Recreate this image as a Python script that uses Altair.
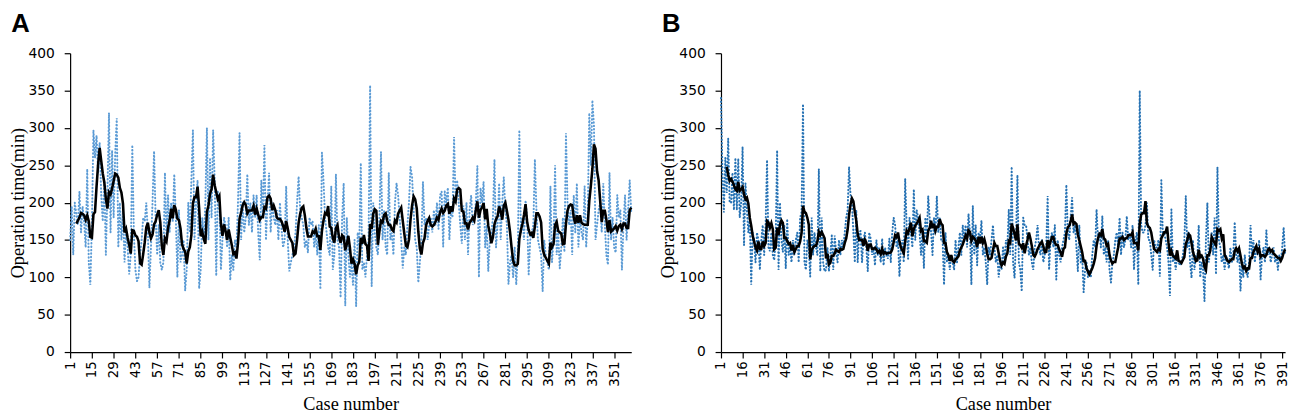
import altair as alt
import pandas as pd

# Panel A: operation time per case (min)
times_a = [
    150, 195, 130, 200, 185, 170, 215, 160, 195, 175,
    140, 245, 120, 90, 170, 297, 260, 290, 240, 280,
    210, 175, 230, 130, 215, 320, 160, 270, 180, 265,
    313, 140, 200, 150, 190, 120, 165, 140, 104, 130,
    277, 160, 110, 95, 100, 130, 150, 180, 175, 200,
    160, 86, 140, 200, 269, 180, 130, 170, 120, 110,
    120, 240, 150, 210, 160, 200, 175, 238, 180, 100,
    190, 120, 130, 150, 82, 110, 200, 160, 230, 297,
    150, 200, 230, 85, 110, 180, 150, 200, 300, 150,
    260, 180, 297, 230, 102, 215, 200, 110, 150, 180,
    170, 140, 180, 96, 130, 110, 150, 140, 200, 293,
    150, 200, 160, 180, 238, 170, 200, 160, 210, 180,
    210, 160, 123, 230, 180, 277, 150, 200, 240, 160,
    200, 180, 170, 190, 150, 200, 165, 140, 150, 222,
    150, 108, 120, 130, 140, 160, 200, 235, 190, 180,
    170, 140, 150, 133, 180, 170, 175, 140, 160, 130,
    170, 84, 267, 230, 180, 160, 140, 130, 222, 110,
    130, 238, 150, 140, 73, 180, 226, 62, 180, 130,
    100, 120, 90, 150, 61, 160, 140, 253, 110, 120,
    100, 130, 150, 357, 88, 200, 160, 140, 130, 180,
    268, 150, 190, 140, 130, 240, 150, 160, 130, 200,
    226, 210, 180, 150, 112, 140, 130, 170, 200, 248,
    234, 190, 150, 140, 93, 120, 150, 228, 170, 180,
    150, 170, 180, 160, 190, 170, 200, 165, 210, 215,
    141, 215, 200, 220, 150, 190, 180, 288, 200, 230,
    200, 170, 145, 196, 150, 200, 130, 190, 210, 170,
    180, 200, 249, 100, 220, 200, 228, 140, 170, 108,
    150, 160, 180, 258, 140, 170, 226, 150, 200, 234,
    190, 170, 91, 120, 130, 100, 140, 90, 130, 297,
    160, 180, 150, 203, 180, 104, 150, 160, 170, 258,
    190, 150, 140, 130, 81, 150, 130, 120, 110, 222,
    120, 150, 250, 130, 160, 112, 140, 180, 134, 293,
    200, 170, 190, 130, 210, 160, 226, 140, 180, 160,
    150, 222, 140, 180, 320, 250, 337, 303, 150, 170,
    190, 200, 160, 226, 170, 130, 117, 240, 150, 180,
    140, 133, 210, 180, 190, 110, 170, 210, 150, 190,
    230, 187,
]

# Panel B: operation time per case (min)
times_b = [
    340, 240, 187, 260, 213, 286, 200, 200, 240, 190,
    260, 190, 259, 180, 200, 275, 143, 226, 190, 160,
    180, 90, 160, 150, 120, 160, 150, 110, 150, 170,
    130, 170, 257, 140, 135, 160, 130, 123, 150, 270,
    110, 200, 150, 134, 170, 112, 178, 130, 140, 120,
    150, 130, 150, 160, 120, 180, 187, 332, 120, 110,
    150, 140, 101, 180, 130, 160, 140, 130, 245, 108,
    180, 120, 108, 110, 140, 108, 130, 156, 110, 156,
    134, 120, 150, 130, 150, 140, 160, 180, 190, 248,
    210, 200, 160, 120, 190, 120, 160, 162, 120, 150,
    160, 140, 108, 160, 152, 130, 140, 116, 150, 130,
    140, 120, 152, 116, 140, 130, 125, 152, 120, 160,
    180, 170, 140, 150, 101, 140, 150, 120, 232, 170,
    125, 180, 160, 140, 218, 150, 190, 180, 160, 130,
    160, 112, 180, 150, 209, 180, 160, 130, 180, 160,
    209, 160, 180, 150, 150, 90, 160, 120, 130, 110,
    130, 120, 110, 150, 120, 140, 160, 130, 170, 150,
    170, 140, 185, 160, 90, 196, 130, 170, 116, 160,
    150, 176, 130, 140, 120, 90, 141, 130, 150, 170,
    140, 120, 130, 100, 120, 110, 140, 120, 150, 141,
    191, 130, 248, 120, 99, 150, 237, 120, 110, 81,
    180, 170, 170, 150, 130, 140, 120, 110, 140, 150,
    170, 138, 130, 150, 120, 130, 140, 209, 110, 150,
    160, 140, 170, 97, 150, 130, 120, 140, 150, 160,
    224, 160, 150, 180, 207, 160, 170, 140, 108, 170,
    120, 130, 80, 110, 120, 100, 110, 100, 130, 150,
    140, 191, 150, 160, 140, 182, 130, 140, 120, 150,
    110, 93, 120, 130, 150, 160, 140, 180, 130, 160,
    140, 150, 182, 150, 160, 140, 170, 110, 150, 160,
    90, 350, 170, 160, 160, 170, 200, 150, 150, 130,
    110, 150, 140, 140, 150, 101, 230, 160, 160, 150,
    140, 120, 75, 191, 120, 130, 110, 130, 120, 116,
    120, 130, 150, 209, 140, 160, 120, 99, 150, 110,
    130, 125, 170, 100, 120, 110, 68, 150, 200, 120,
    140, 160, 130, 180, 104, 248, 150, 140, 120, 130,
    110, 130, 120, 112, 140, 120, 130, 174, 130, 120,
    140, 82, 120, 100, 130, 110, 100, 120, 170, 130,
    150, 120, 140, 130, 150, 97, 130, 140, 120, 163,
    130, 140, 120, 130, 140, 120, 130, 110, 130, 120,
    140, 167, 130,
]

ticks_a = list(range(1, 352, 14))
ticks_b = list(range(1, 392, 15))
y_ticks = list(range(0, 401, 50))

LABEL_FONT = "DejaVu Sans"
TITLE_FONT = "Liberation Serif"


def panel(values, color, letter, ticks, width):
    n = len(values)
    df = pd.DataFrame({"case": list(range(1, n + 1)), "time": values})
    base = alt.Chart(df)
    x_axis = alt.Axis(
        values=ticks,
        title="Case number",
        labelAngle=-90,
        labelPadding=3,
        labelOverlap=False,
        labelSeparation=0,
        labelFontSize=13.5,
        titlePadding=9,
        tickSize=6,
    )
    y_axis = alt.Axis(
        values=y_ticks,
        title="Operation time(min)",
        labelPadding=10,
        labelOverlap=False,
        labelFontSize=14,
        titlePadding=1,
        tickSize=6,
    )
    x_scale = alt.Scale(domain=[1, n], nice=False, zero=False)
    y_scale = alt.Scale(domain=[0, 400], nice=False)
    raw = base.mark_line(
        color=color, strokeWidth=2, strokeDash=[0.5, 3], strokeCap="round"
    ).encode(
        x=alt.X("case:Q", scale=x_scale, axis=x_axis),
        y=alt.Y("time:Q", scale=y_scale, axis=y_axis),
    )
    ma = (
        base.transform_window(
            ma="mean(time)", frame=[-4, 0], sort=[alt.SortField("case")]
        )
        .transform_filter("datum.case >= 5")
        .mark_line(color="black", strokeWidth=2.6)
        .encode(
            x=alt.X("case:Q", scale=x_scale, axis=x_axis),
            y=alt.Y("ma:Q", scale=y_scale, axis=y_axis),
        )
    )
    return alt.layer(raw, ma).properties(
        width=width,
        height=303,
        title=alt.TitleParams(
            letter,
            anchor="start",
            frame="bounds",
            fontSize=26,
            fontWeight="bold",
            font="Liberation Sans",
            color="black",
            offset=10,
            dx=3,
        ),
    )


chart = (
    alt.hconcat(
        panel(times_a, "#5B9BD5", "A", ticks_a, 569),
        panel(times_b, "#2672B4", "B", ticks_b, 572),
        spacing=22,
    )
    .properties(padding={"left": 0, "top": 0, "right": 0, "bottom": 0})
    .configure_view(stroke=None)
    .configure_axis(
        grid=False,
        domainColor="black",
        tickColor="black",
        labelColor="black",
        titleColor="black",
        labelFont=LABEL_FONT,
        labelOverlap=False,
        titleFont=TITLE_FONT,
        titleFontSize=18.5,
        titleFontWeight="normal",
        domainWidth=1.2,
        tickWidth=1.2,
    )
)

chart.save("out.html", embed_options={"renderer": "svg", "actions": False})
